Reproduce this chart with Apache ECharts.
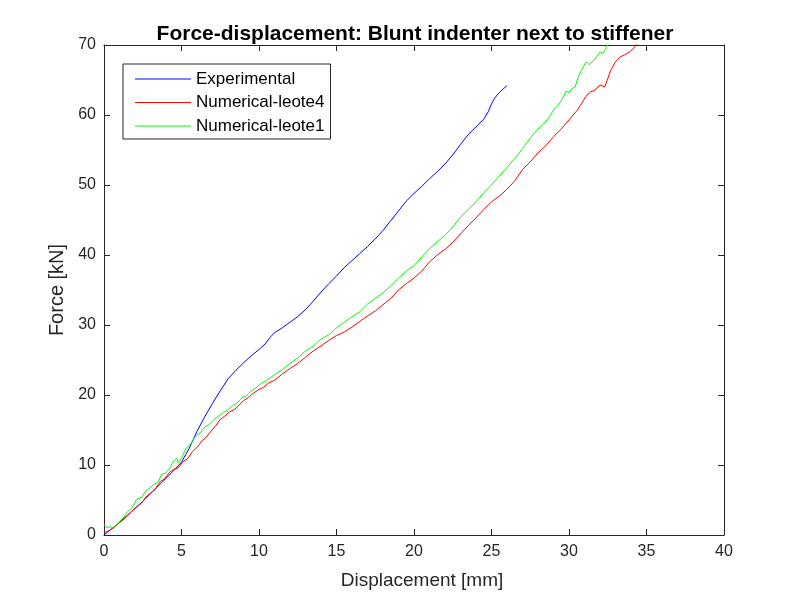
<!DOCTYPE html>
<html>
<head>
<meta charset="utf-8">
<script src="https://cdn.jsdelivr.net/npm/echarts@6/dist/echarts.min.js"></script>
<style>html,body{margin:0;padding:0;background:#fff}#c{width:800px;height:600px}</style>
</head>
<body>
<div id="c"></div>
<script>
const titleText = "Force-displacement: Blunt indenter next to stiffener";
const xName = "Displacement [mm]";
const yName = "Force [kN]";
const seriesNames = ["Experimental", "Numerical-leote4", "Numerical-leote1"];

const expX = [0,0.5,1,1.5,2,2.5,3,3.5,4,4.5,5,5.5,6,6.5,7,7.5,8,8.5,9,9.5,10,10.4,10.7,11,11.5,12,12.5,13,13.5,14,14.5,15,15.5,16,16.5,17,17.5,18,18.5,19,19.5,20,20.5,21,21.5,22,22.5,23,23.5,24,24.5,24.8,25,25.2,25.5,26];
const expY = [0,0.9,1.8,2.8,3.8,4.8,5.9,7.0,8.1,9.2,10.4,12.4,14.8,16.9,18.8,20.6,22.3,23.5,24.6,25.6,26.5,27.3,28.2,28.9,29.6,30.4,31.2,32.2,33.4,34.7,35.9,37.0,38.2,39.2,40.2,41.2,42.3,43.5,44.9,46.3,47.7,48.8,49.8,50.9,51.9,53.0,54.3,55.8,57.2,58.3,59.4,60.5,61.6,62.4,63.2,64.2];

const leote4X = [0,0.3,0.6,0.9,1.2,1.5,1.8,2.1,2.4,2.7,3.0,3.3,3.6,3.9,4.2,4.5,4.8,5.1,5.4,5.7,6.0,6.3,6.6,6.9,7.2,7.5,7.8,8.1,8.4,8.7,9.0,9.3,9.6,10.0,10.3,10.6,11.0,11.5,12.0,12.5,13.0,13.5,14.0,14.5,15.0,15.5,16.0,16.5,17.0,17.5,18.0,18.5,19.0,19.5,20.0,20.5,21.0,21.5,22.0,22.5,23.0,23.5,24.0,24.5,25.0,25.5,26.0,26.5,27.0,27.5,28.0,28.5,29.0,29.5,30.0,30.5,30.8,31.1,31.4,31.7,32.0,32.3,32.5,32.7,33.0,33.3,33.6,33.9,34.2,34.4];
const leote4Y = [0.3,0.6,1.0,1.6,2.1,2.7,3.4,4.0,4.5,5.4,6.0,6.5,7.6,8.0,8.9,9.4,9.6,10.5,10.9,11.9,12.5,13.4,14.0,14.8,15.6,16.5,17.0,17.6,17.9,18.5,19.2,19.6,20.2,20.8,21.1,21.7,22.1,23.0,23.8,24.5,25.4,26.3,27.0,27.8,28.5,29.0,29.7,30.5,31.3,32.0,32.9,33.8,35.0,35.9,36.7,37.7,39.0,40.0,40.8,41.8,43.0,44.2,45.3,46.5,47.6,48.4,49.4,50.6,52.2,53.3,54.6,55.6,56.9,58.0,59.3,60.6,61.6,62.7,63.3,63.6,64.3,64.0,65.2,66.4,67.6,68.3,68.6,69.0,69.6,70.2];

const leote1X = [0,0.2,0.4,0.6,0.8,1.0,1.3,1.5,1.8,2.1,2.4,2.7,2.9,3.2,3.5,3.7,4.0,4.3,4.5,4.7,4.8,5.0,5.3,5.6,5.9,6.2,6.5,6.8,7.1,7.4,7.7,8.0,8.3,8.6,8.9,9.2,9.5,9.8,10.1,10.5,11.0,11.5,12.0,12.5,13.0,13.5,14.0,14.5,15.0,15.5,16.0,16.5,17.0,17.5,18.0,18.5,19.0,19.5,20.0,20.5,21.0,21.5,22.0,22.5,23.0,23.5,24.0,24.5,25.0,25.5,26.0,26.5,27.0,27.5,28.0,28.3,28.7,29.0,29.3,29.6,29.8,30.0,30.2,30.4,30.6,30.9,31.1,31.3,31.6,31.8,32.0,32.2,32.4,32.6];
const leote1Y = [1.5,1.0,1.2,1.0,1.4,1.9,2.6,3.3,3.8,5.1,5.3,6.3,6.6,7.2,7.6,8.6,8.9,9.8,10.6,10.9,10.3,11.0,12.4,13.0,14.1,14.6,15.4,15.8,16.5,17.0,17.5,17.9,18.5,18.9,19.6,19.9,20.6,21.0,21.6,22.1,22.9,23.6,24.5,25.3,26.3,27.0,28.0,28.6,29.6,30.4,31.2,31.9,33.0,33.8,34.6,35.6,36.7,37.7,38.5,39.7,40.9,41.9,42.8,44.0,45.4,46.5,47.6,48.9,50.0,51.3,52.5,53.8,55.2,56.7,58.0,58.6,59.6,60.7,61.4,62.4,63.4,63.2,63.8,64.0,65.5,66.8,67.6,67.2,67.8,68.4,69.0,68.8,69.6,70.3];

const xTicks = {min: 0, max: 40, interval: 5};
const yTicks = {min: 0, max: 70, interval: 10};

function pairs(xs, ys) { return xs.map((x, i) => [x, ys[i]]); }

const FONT = "'Liberation Sans', Arial, Helvetica, sans-serif";
const AX = '#262626';

const chart = echarts.init(document.getElementById('c'), null, {renderer: 'canvas'});

function axisCommon(showLabels, margin) {
  return {
    axisLine: {show: true, onZero: false, lineStyle: {color: AX, width: 1}},
    axisTick: {show: true, inside: true, length: 6, lineStyle: {color: AX, width: 1}},
    axisLabel: {show: showLabels, color: AX, fontSize: 16, fontFamily: FONT, margin: margin || 8},
    splitLine: {show: false}
  };
}

chart.setOption({
  animation: false,
  backgroundColor: '#fff',
  title: {
    text: titleText, left: 410, top: 19, textAlign: 'center',
    textStyle: {fontSize: 21, fontWeight: 'bold', color: '#000', fontFamily: FONT}
  },
  grid: {left: 104, right: 76, top: 45, bottom: 65, containLabel: false},
  legend: {
    orient: 'vertical', left: 123, top: 64,
    data: seriesNames,
    icon: 'rect', itemWidth: 56, itemHeight: 1, itemGap: 5.5, itemTextGap: 7,
    padding: [6, 6, 4, 12],
    borderColor: AX, borderWidth: 1, backgroundColor: '#fff',
    textStyle: {fontSize: 17, color: '#000', fontFamily: FONT, lineHeight: 18}
  },
  xAxis: [
    Object.assign({type: 'value', position: 'bottom', min: xTicks.min, max: xTicks.max, interval: xTicks.interval,
      name: xName, nameLocation: 'middle', nameGap: 36,
      nameTextStyle: {fontSize: 19, color: AX, fontFamily: FONT, padding: [0, 0, 0, 16]}}, axisCommon(true, 9)),
    Object.assign({type: 'value', position: 'top', min: xTicks.min, max: xTicks.max, interval: xTicks.interval}, axisCommon(false))
  ],
  yAxis: [
    Object.assign({type: 'value', position: 'left', min: yTicks.min, max: yTicks.max, interval: yTicks.interval,
      name: yName, nameLocation: 'middle', nameGap: 35, nameRotate: 90,
      nameTextStyle: {fontSize: 20, color: AX, fontFamily: FONT}}, axisCommon(true, 8)),
    Object.assign({type: 'value', position: 'right', min: yTicks.min, max: yTicks.max, interval: yTicks.interval}, axisCommon(false))
  ],
  series: [
    {name: seriesNames[0], type: 'line', data: pairs(expX, expY), showSymbol: false,
      lineStyle: {color: '#0000ff', width: 1}, itemStyle: {color: '#0000ff'}, xAxisIndex: 0, yAxisIndex: 0, clip: true},
    {name: seriesNames[1], type: 'line', data: pairs(leote4X, leote4Y), showSymbol: false,
      lineStyle: {color: '#ff0000', width: 1}, itemStyle: {color: '#ff0000'}, xAxisIndex: 0, yAxisIndex: 0, clip: true},
    {name: seriesNames[2], type: 'line', data: pairs(leote1X, leote1Y), showSymbol: false,
      lineStyle: {color: '#00ff00', width: 1}, itemStyle: {color: '#00ff00'}, xAxisIndex: 0, yAxisIndex: 0, clip: true}
  ]
});
</script>
</body>
</html>
